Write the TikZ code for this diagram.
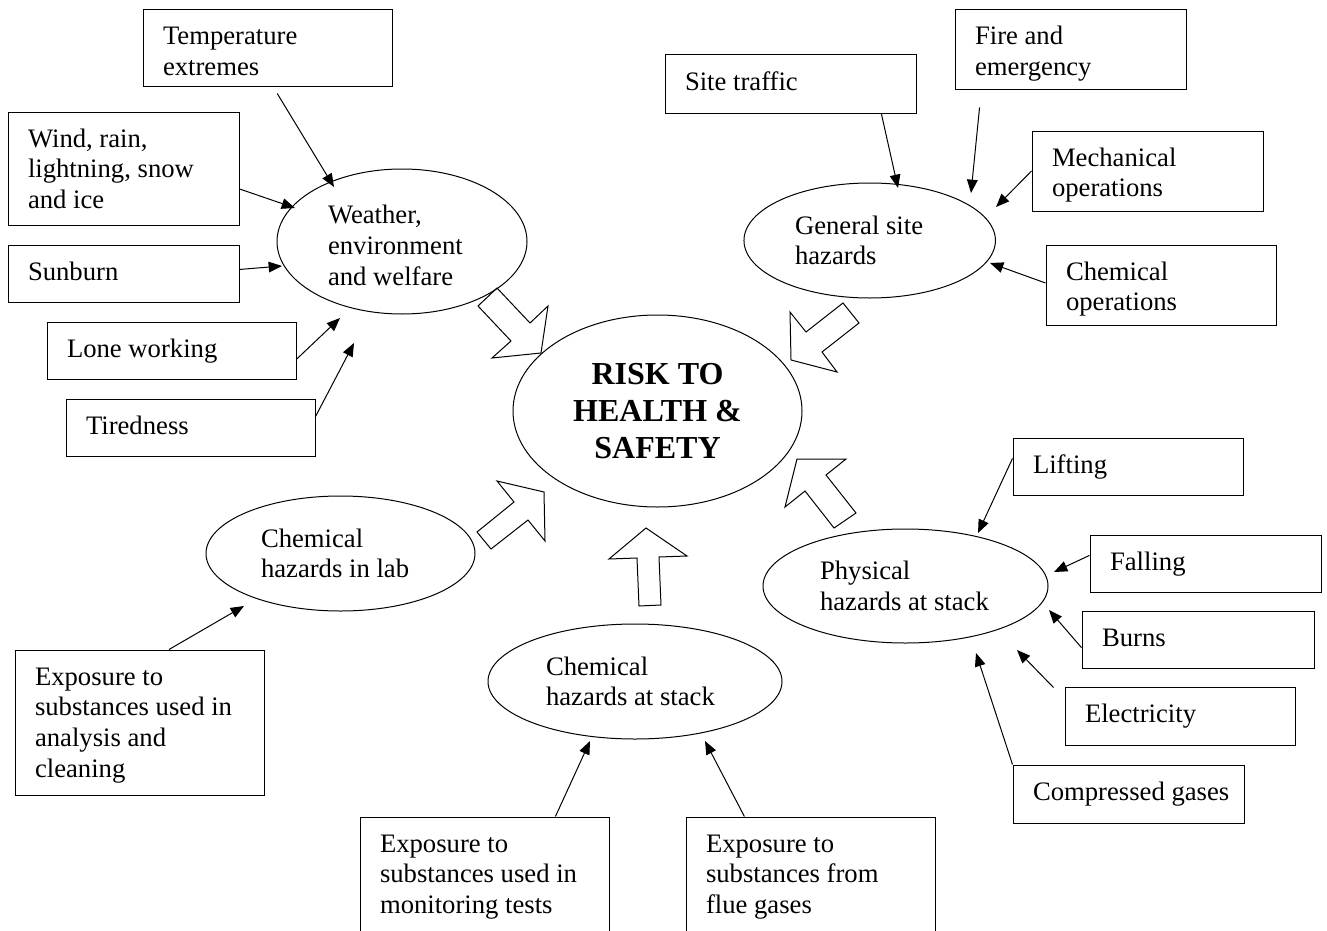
\documentclass[tikz,border=0pt]{standalone}
\usepackage{fontspec}
\setmainfont{Liberation Serif}
\usetikzlibrary{shapes.geometric,arrows.meta,calc}

\tikzset{every picture/.style={line width=0.75pt}}
\tikzset{
  hazbox/.style={draw, rectangle, align=flush left, inner xsep=15pt, inner ysep=0pt,
    text height=26.25pt, font=\fontsize{20}{23}\selectfont},
  hazard/.style={draw, ellipse, align=flush left, inner sep=0pt,
    font=\fontsize{20}{23}\selectfont},
  hazarrow/.style={-{Triangle[length=10pt,width=8pt]}},
  fatarrow/.style={draw, line join=miter}
}

\begin{document}
\begin{tikzpicture}[x=0.75pt,y=0.75pt,yscale=-1,xscale=1]

        \useasboundingbox (0,0) rectangle (1327,931);
        \clip (0,0) rectangle (1327,931);

        \node[hazard, align=center, font=\bfseries\fontsize{24}{27.75}\selectfont,
              minimum width=216.75pt, minimum height=144pt] (risk) at (657.5,411) {RISK TO\\HEALTH \&\\SAFETY};

        \node[hazard, text width=111pt, text height=19.5pt, minimum width=187.5pt, minimum height=108.75pt] (weather) at (402,241.5) {Weather,\\environment\\and welfare};
        \node[hazard, text width=112pt, minimum width=188.6pt, minimum height=86.25pt] (general) at (869.7,240.5) {General site\\hazards};
        \node[hazard, text width=128.25pt, minimum width=213.75pt, minimum height=85.5pt] (physical) at (905.5,586) {Physical\\hazards at stack};
        \node[hazard, text width=119.25pt, minimum width=201.75pt, minimum height=86.25pt] (lab) at (340.5,553.5) {Chemical\\hazards in lab};
        \node[hazard, text width=133.5pt, minimum width=220.5pt, minimum height=86.25pt] (chemstack) at (635,681.5) {Chemical\\hazards at stack};

        \node[hazbox, text width=156.75pt, text depth=31.5pt] (temp) at (267.5,48.5) {Temperature\\extremes};
        \node[hazbox, text width=143.25pt, text depth=58.5pt] (wind) at (123.5,168.5) {Wind, rain,\\lightning, snow\\and ice};
        \node[hazbox, text width=143.25pt, text depth=16.5pt] (sun) at (123.5,273.5) {Sunburn};
        \node[hazbox, text width=156.75pt, text depth=16.5pt] (lone) at (171.5,350.5) {Lone working};
        \node[hazbox, text width=156.75pt, text depth=16.5pt] (tired) at (190.5,427.5) {Tiredness};

        \node[hazbox, text width=158.25pt, text depth=17.25pt] (traffic) at (790.5,84) {Site traffic};
        \node[hazbox, text width=143.25pt, text depth=33.75pt] (fire) at (1070.5,50) {Fire and\\emergency};
        \node[hazbox, text width=143.25pt, text depth=33.75pt] (mech) at (1147.5,171) {Mechanical\\operations};
        \node[hazbox, text width=142.5pt, text depth=33.75pt] (chemops) at (1161,285) {Chemical\\operations};

        \node[hazbox, text width=142.5pt, text depth=16.5pt] (lift) at (1128,466.5) {Lifting};
        \node[hazbox, text width=143.25pt, text depth=16.5pt] (fall) at (1205.5,563.5) {Falling};
        \node[hazbox, text width=144pt, text depth=16.5pt] (burns) at (1198,639.5) {Burns};
        \node[hazbox, text width=142.5pt, text depth=17.25pt] (elec) at (1180,716) {Electricity};
        \node[hazbox, text width=143.25pt, text depth=17.25pt] (comp) at (1128.5,794) {\mbox{Compressed gases}};

        \node[hazbox, text width=156.75pt, text depth=82.5pt] (analysis) at (139.5,722.5) {Exposure to\\substances used in\\analysis and\\cleaning};
        \node[hazbox, text width=156.75pt, text depth=62.25pt] (monitor) at (484.5,876) {Exposure to\\substances used in\\monitoring tests};
        \node[hazbox, text width=156.75pt, text depth=62.25pt] (flue) at (810.5,876) {Exposure to\\substances from\\flue gases};

        \coordinate (temptip) at (334,187);
        \coordinate (windtip) at (295,208);
        \coordinate (suntip) at (282,266);
        \coordinate (lonetip) at (340,318);
        \coordinate (tiredtip) at (354,343);
        \coordinate (traffictip) at (898,188);
        \coordinate (firetip) at (971,193);
        \coordinate (mechtip) at (996,207);
        \coordinate (chemopstip) at (990,263);
        \coordinate (lifttip) at (978,533);
        \coordinate (falltip) at (1054,572);
        \coordinate (burnstip) at (1049,610);
        \coordinate (electip) at (1017,650);
        \coordinate (comptip) at (976,653);
        \coordinate (analysistip) at (244,606);
        \coordinate (monitortip) at (590,741);
        \coordinate (fluetip) at (705,741);

        \draw[hazarrow] ($(temp.-76)+(0,6)$) -- (temptip);
        \draw[hazarrow] (wind.-10.5) -- (windtip);
        \draw[hazarrow] (sun.2) -- (suntip);
        \draw[hazarrow] (lone.-4) -- (lonetip);
        \draw[hazarrow] (tired.5) -- (tiredtip);

        \draw[hazarrow] (traffic.-18) -- (traffictip);
        \draw[hazarrow] ($(fire.-156)+(0,17)$) -- (firetip);
        \draw[hazarrow] (mech.west) -- (mechtip);
        \draw[hazarrow] (chemops.179) -- (chemopstip);

        \draw[hazarrow] (lift.176) -- (lifttip);
        \draw[hazarrow] (fall.176) -- (falltip);
        \draw[hazarrow] (burns.-176) -- (burnstip);
        \draw[hazarrow] ($(elec.north west)+(-11,1)$) -- (electip);
        \draw[hazarrow] (comp.north west) -- (comptip);

        \draw[hazarrow] (analysis.68.5) -- (analysistip);
        \draw[hazarrow] (monitor.40.7) -- (monitortip);
        \draw[hazarrow] (flue.138.8) -- (fluetip);

        % block arrows into the centre
        \draw[fatarrow] (497,288) -- (530,323) -- (548,306) -- (541,353) -- (492,358) -- (511,341) -- (478,306) -- cycle;
        \draw[fatarrow] (843,303) -- (859,323) -- (822,352) -- (837,372) -- (791,360) -- (790,312) -- (806,332) -- cycle;
        \draw[fatarrow] (477,532) -- (514,502) -- (497,481) -- (544,492) -- (545,541) -- (528,520) -- (491,549) -- cycle;
        \draw[fatarrow] (646,528) -- (687,556) -- (659,557) -- (661,605) -- (639,606) -- (637,558) -- (609,559) -- cycle;
        \draw[fatarrow] (797,459) -- (846,459) -- (826,475) -- (856,513) -- (834,528) -- (805,491) -- (785,507) -- cycle;

\end{tikzpicture}
\end{document}
